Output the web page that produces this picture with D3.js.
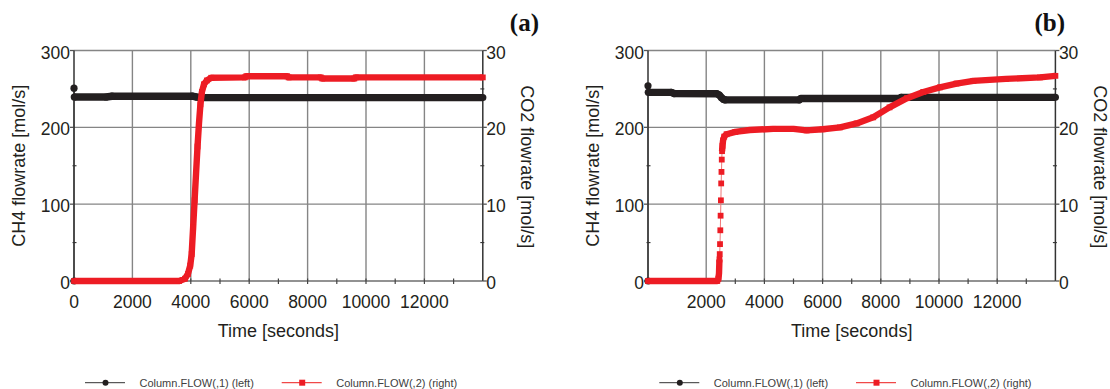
<!DOCTYPE html>
<html><head><meta charset="utf-8">
<script src="https://cdn.jsdelivr.net/npm/d3@7"></script>
<style>body{margin:0;background:#fff} svg{display:block}</style>
</head><body>
<svg id="c" width="1110" height="389"></svg>
<script>
// ---------- data ----------
// Panel (a)
const ch4ATime  = [0, 0, 10, 1100, 1300, 4050, 4200, 4350, 14000];
const ch4AValue = [0, 251, 239.5, 239.5, 240.5, 240.5, 239.5, 238.7, 238.7];
const co2ATime  = [0, 3600, 3800, 3900, 3980, 4030, 4080, 4130, 4180, 4230, 4280, 4330, 4380, 4450, 4550, 4700, 5850, 5900, 7300, 7350, 8450, 8500, 9600, 9650, 14000];
const co2AValue = [0, 0, 0.3, 0.9, 2.0, 3.5, 7.0, 10.5, 14.0, 17.5, 20.5, 23.0, 24.6, 25.6, 26.1, 26.45, 26.5, 26.65, 26.65, 26.5, 26.5, 26.35, 26.35, 26.5, 26.5];
// Panel (b)
const ch4BTime  = [0, 0, 10, 800, 900, 2360, 2450, 2530, 2600, 2650, 5200, 5250, 8650, 8700, 14000];
const ch4BValue = [0, 254, 245.5, 245.5, 244, 243.8, 242, 238.5, 236.3, 235.8, 235.8, 237.5, 237.5, 239, 239];
const co2BTime  = [0, 2380, 2420, 2440, 2455, 2465, 2475, 2485, 2495, 2505, 2515, 2525, 2535, 2545, 2560, 2580, 2620, 2700, 3000, 3500, 4300, 5000, 5450, 6000, 6600, 7170, 7740, 8300, 8900, 9460, 10030, 10600, 11180, 12300, 13470, 14000];
const co2BValue = [0, 0, 0.3, 1.0, 2.8, 3.5, 4.8, 6.6, 8.5, 10.5, 12.7, 14.2, 15.8, 16.9, 17.6, 18.3, 18.8, 19.1, 19.4, 19.65, 19.8, 19.8, 19.6, 19.75, 20.0, 20.5, 21.3, 22.6, 23.8, 24.6, 25.2, 25.7, 26.05, 26.3, 26.5, 26.7];

const xTickLabelsA = [0, 2000, 4000, 6000, 8000, 10000, 12000];
const xTickLabelsB = [2000, 4000, 6000, 8000, 10000, 12000];
const xGridValues  = [2000, 4000, 6000, 8000, 10000, 12000];
const xSmallTicks  = [1000, 2000, 3000, 4000, 5000, 6000, 7000, 8000, 9000, 10000, 11000, 12000, 13000];
const ch4Ticks = [0, 100, 200, 300];
const ch4Minor = [50, 150, 250];
const co2Ticks = [0, 10, 20, 30];
const co2Minor = [5, 15, 25];
const panelLabels = ["(a)", "(b)"];
const legendLabels = ["Column.FLOW(,1) (left)", "Column.FLOW(,2) (right)"];
const xTitle = "Time [seconds]";
const yLeftTitle = "CH4 flowrate [mol/s]";
const yRightTitle = "CO2 flowrate [mol/s]";

// ---------- drawing ----------
const svg = d3.select("#c");
const FONT = "'Liberation Sans', Arial, sans-serif";
const BLACK = "#231f20", RED = "#ed1c24", GRID = "#858585", TXT = "#231f20";
const SAMPLE_GAP = 12; // samples closer than this (s) are shown individually

function drawSeries(g, x, y, times, values, s) {
  const pts = times.map((t, i) => [x(t), y(values[i]), t]);
  g.append("path").attr("d", d3.line()(pts.map(p => [p[0], p[1]])))
    .attr("fill", "none").attr("stroke", s.thin).attr("stroke-width", 1);
  const runs = []; let cur = [pts[0]];
  for (let i = 1; i < pts.length; i++) {
    if (pts[i][2] - pts[i - 1][2] > SAMPLE_GAP) cur.push(pts[i]);
    else { if (cur.length > 1) runs.push(cur); cur = [pts[i]]; }
  }
  if (cur.length > 1) runs.push(cur);
  runs.forEach(r => g.append("path").attr("d", d3.line()(r.map(p => [p[0], p[1]])))
    .attr("fill", "none").attr("stroke", s.color).attr("stroke-width", s.band)
    .attr("stroke-linejoin", "round").attr("stroke-linecap", "butt"));
  if (s.marker === "circle") {
    g.selectAll(null).data(pts).join("circle").attr("cx", p => p[0]).attr("cy", p => p[1])
      .attr("r", s.size / 2).attr("fill", s.color);
  } else {
    g.selectAll(null).data(pts).join("rect").attr("x", p => p[0] - s.size / 2).attr("y", p => p[1] - s.size / 2)
      .attr("width", s.size).attr("height", s.size).attr("fill", s.color);
  }
}

function panel(cfg) {
  const x = d3.scaleLinear().domain([0, 14000]).range([cfg.left, cfg.right]);
  const yL = d3.scaleLinear().domain([0, 300]).range([281, 50.5]);
  const yR = d3.scaleLinear().domain([0, 30]).range([281, 50.5]);
  const g = svg.append("g");
  const L = cfg.left, R = cfg.right, B = yL(0), T = yL(300);

  // grid
  g.selectAll(null).data(xGridValues).join("line")
    .attr("x1", d => x(d)).attr("x2", d => x(d)).attr("y1", B).attr("y2", T)
    .attr("stroke", GRID).attr("stroke-width", 1.4);
  g.selectAll(null).data([100, 200, 300]).join("line")
    .attr("x1", L).attr("x2", R).attr("y1", d => yL(d)).attr("y2", d => yL(d))
    .attr("stroke", GRID).attr("stroke-width", 1.4);
  // bottom axis line + ticks
  g.append("line").attr("x1", L).attr("x2", R).attr("y1", B).attr("y2", B)
    .attr("stroke", "#6e6e6e").attr("stroke-width", 1.4);
  g.selectAll(null).data(xSmallTicks).join("line")
    .attr("x1", d => x(d)).attr("x2", d => x(d)).attr("y1", B - 2.5).attr("y2", B + 3)
    .attr("stroke", "#444").attr("stroke-width", 1.2);
  // left axis
  g.append("line").attr("x1", L).attr("x2", L).attr("y1", T).attr("y2", B)
    .attr("stroke", "#333").attr("stroke-width", 1.5);
  g.selectAll(null).data(ch4Ticks).join("line")
    .attr("x1", L - 4).attr("x2", L).attr("y1", d => yL(d)).attr("y2", d => yL(d))
    .attr("stroke", "#555").attr("stroke-width", 1.3);
  g.selectAll(null).data(ch4Minor).join("line")
    .attr("x1", L - 1.5).attr("x2", L + 2.5).attr("y1", d => yL(d)).attr("y2", d => yL(d))
    .attr("stroke", "#333").attr("stroke-width", 1.1);
  // right axis
  g.append("line").attr("x1", R).attr("x2", R).attr("y1", T).attr("y2", B)
    .attr("stroke", "#333").attr("stroke-width", 1.5);
  g.selectAll(null).data(co2Ticks).join("line")
    .attr("x1", R).attr("x2", R + 4).attr("y1", d => yR(d)).attr("y2", d => yR(d))
    .attr("stroke", "#555").attr("stroke-width", 1.3);
  g.selectAll(null).data(co2Minor).join("line")
    .attr("x1", R - 2.5).attr("x2", R + 1.5).attr("y1", d => yR(d)).attr("y2", d => yR(d))
    .attr("stroke", "#333").attr("stroke-width", 1.1);

  // series
  drawSeries(g, x, yL, cfg.ch4T, cfg.ch4V, {color: BLACK, thin: "#333", band: 7.4, marker: "circle", size: 7.2});
  drawSeries(g, x, yR, cfg.co2T, cfg.co2V, {color: RED, thin: "#f07878", band: 6.4, marker: "square", size: 5.8});

  // tick labels
  const lab = g.append("g").attr("font-family", FONT).attr("fill", TXT).attr("font-size", 17.5);
  lab.selectAll(null).data(cfg.xLabels).join("text")
    .attr("x", d => x(d)).attr("y", 307.5).attr("text-anchor", "middle").text(d => d);
  lab.selectAll(null).data(ch4Ticks).join("text")
    .attr("x", L - 4).attr("y", d => yL(d) + 8).attr("text-anchor", "end").text(d => d);
  lab.selectAll(null).data(co2Ticks).join("text")
    .attr("x", R + 3.5).attr("y", d => yR(d) + 8).attr("text-anchor", "start").text(d => d);

  // titles
  const tt = g.append("g").attr("font-family", FONT).attr("fill", TXT).attr("font-size", 18);
  tt.append("text").attr("x", (L + R) / 2).attr("y", 337).attr("text-anchor", "middle").text(xTitle);
  tt.append("text").attr("transform", `translate(${L - 49},${(T + B) / 2}) rotate(-90)`)
    .attr("text-anchor", "middle").text(yLeftTitle);
  tt.append("text").attr("transform", `translate(${R + 38.5},${(T + B) / 2 + 1}) rotate(90)`)
    .attr("text-anchor", "middle").text(yRightTitle);
  g.append("text").attr("x", cfg.labelX).attr("y", 30.5).attr("text-anchor", "end")
    .attr("font-family", "'Liberation Serif','Times New Roman',serif").attr("font-weight", "bold")
    .attr("font-size", 25).attr("fill", "#111").text(cfg.label);

  // legend
  const lg = g.append("g").attr("font-family", FONT).attr("font-size", 11).attr("fill", "#404040");
  const ly = 382.7;
  lg.append("line").attr("x1", cfg.leg[0]).attr("x2", cfg.leg[0] + 40).attr("y1", ly).attr("y2", ly)
    .attr("stroke", "#333").attr("stroke-width", 1);
  lg.append("circle").attr("cx", cfg.leg[0] + 20.5).attr("cy", ly).attr("r", 3).attr("fill", BLACK);
  lg.append("text").attr("x", cfg.leg[0] + 54.5).attr("y", ly + 4).text(legendLabels[0]);
  lg.append("line").attr("x1", cfg.leg[1]).attr("x2", cfg.leg[1] + 40).attr("y1", ly).attr("y2", ly)
    .attr("stroke", "#f04848").attr("stroke-width", 1.2);
  lg.append("rect").attr("x", cfg.leg[1] + 20.5 - 3).attr("y", ly - 3).attr("width", 6).attr("height", 6).attr("fill", RED);
  lg.append("text").attr("x", cfg.leg[1] + 54.5).attr("y", ly + 4).text(legendLabels[1]);
}

panel({left: 74, right: 482.8, ch4T: ch4ATime, ch4V: ch4AValue, co2T: co2ATime, co2V: co2AValue,
       xLabels: xTickLabelsA, label: panelLabels[0], labelX: 539, leg: [85, 281.7]});
panel({left: 648, right: 1055.4, ch4T: ch4BTime, ch4V: ch4BValue, co2T: co2BTime, co2V: co2BValue,
       xLabels: xTickLabelsB, label: panelLabels[1], labelX: 1065, leg: [659.3, 856]});
</script>
</body></html>
